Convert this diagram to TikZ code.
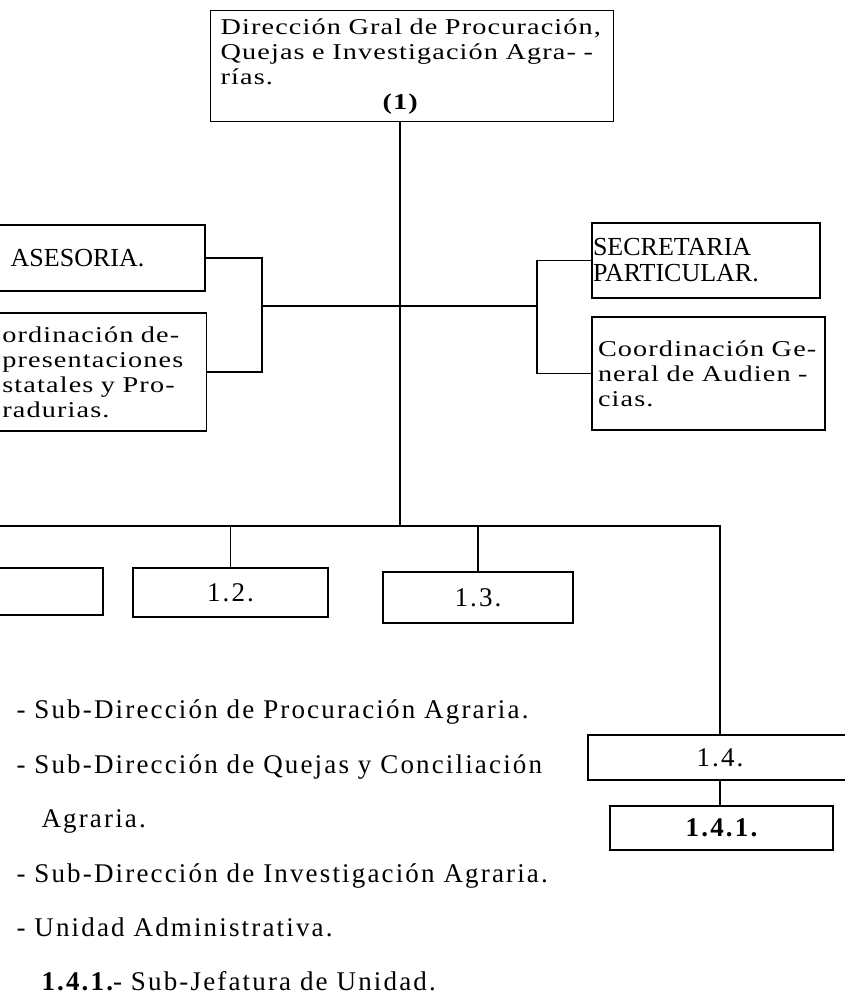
\documentclass[tikz,border=0pt]{standalone}
\usepackage{fontspec}
\setmainfont{Liberation Serif}
\newfontfamily\typefont{Liberation Serif}[FakeStretch=1.25,LetterSpace=5]
\newfontfamily\listfont{Liberation Serif}[LetterSpace=8]

\tikzset{
  orgbox/.style={draw, line width=1.2pt, inner xsep=6pt, inner ysep=0pt},
  wire/.style={line width=1.2pt},
  typed/.style={font=\typefont\fontsize{22.6}{25}\selectfont},
  caps/.style={font=\fontsize{26}{26}\selectfont},
  listtext/.style={font=\listfont\fontsize{27}{30}\selectfont},
}

\begin{document}
\begin{tikzpicture}[x=1pt,y=-1pt]

            \useasboundingbox (0,0) rectangle (845,1002);
            \clip (0,0) rectangle (845,1002);

            % head
            \node[orgbox, typed, anchor=north west, inner xsep=10pt, minimum width=403pt, minimum height=111pt, text width=383pt, align=left] (dg) at (210,10)
                {Dirección Gral de Procuración,\\ Quejas e Investigación Agra- -\\ rías.\\ \hspace*{162pt}\textbf{(1)}};

            % staff units
            \node[orgbox, caps, minimum width=255pt, minimum height=66pt] (ase) at (77.5,258) {ASESORIA.};
            \node[orgbox, typed, anchor=east, inner xsep=14pt, minimum height=118pt, text width=190pt, align=left] (crep) at (207,372)
                {ordinación de-\\ presentaciones\\ statales y Pro-\\ radurias.};

            \node[orgbox, caps, inner xsep=1pt, minimum width=228pt, minimum height=75pt, text width=226pt, align=left] (secp) at (706,260.5)
                {SECRETARIA\\ PARTICULAR.};
            \node[orgbox, typed, minimum width=233pt, minimum height=113pt, text width=221pt, align=left] (cga) at (708.5,373.5)
                {Coordinación Ge-\\ neral de Audien -\\ cias.};

            \coordinate (lbr) at (262,306);
            \coordinate (rbr) at (537,306);

            \draw[wire] (ase.east) -| (lbr) |- (crep.east);
            \draw[wire] (secp.west) -| (rbr) |- (cga.west);
            \draw[wire] (lbr) -- (rbr);

            % line units
            \coordinate (bus) at (400,526);
            \coordinate (busL) at (-5,526);
            \coordinate (busR) at (720,526);

            \node[orgbox, minimum width=213pt, minimum height=47pt] (u11) at (-3.5,591.5) {};
            \node[orgbox, listtext, minimum width=195pt, minimum height=49pt] (u12) at (230.5,592.5) {1.2.};
            \node[orgbox, listtext, minimum width=190pt, minimum height=51pt] (u13) at (478,597.5) {1.3.};
            \node[orgbox, listtext, minimum width=264pt, minimum height=45pt] (u14) at (720,757.5) {1.4.};
            \node[orgbox, listtext, minimum width=223pt, minimum height=44pt] (u141) at (721.5,828) {\bfseries 1.4.1.};

            \draw[wire] (dg.south -| bus) -- (bus);
            \draw[wire] (busL) -- (busR) -- (u14.north -| busR);
            \draw[wire] (u12.north) -- (u12.north |- busL);
            \draw[wire] (u13.north) -- (u13.north |- busL);
            \draw[wire] (u14.south -| busR) -- (u141.north -| busR);

            % key
            \node[listtext, anchor=base west] (k1) at (13,718) {- Sub-Dirección de Procuración Agraria.};
            \node[listtext, anchor=base west] (k2) at (13,773) {- Sub-Dirección de Quejas y Conciliación};
            \node[listtext, anchor=base west] (k3) at (38,827) {Agraria.};
            \node[listtext, anchor=base west] (k4) at (13,882) {- Sub-Dirección de Investigación Agraria.};
            \node[listtext, anchor=base west] (k5) at (13,936) {- Unidad Administrativa.};
            \node[listtext, anchor=base west] (k6) at (38,990) {\bfseries 1.4.1.\mdseries - Sub-Jefatura de Unidad.};

        \end{tikzpicture}
\end{document}
